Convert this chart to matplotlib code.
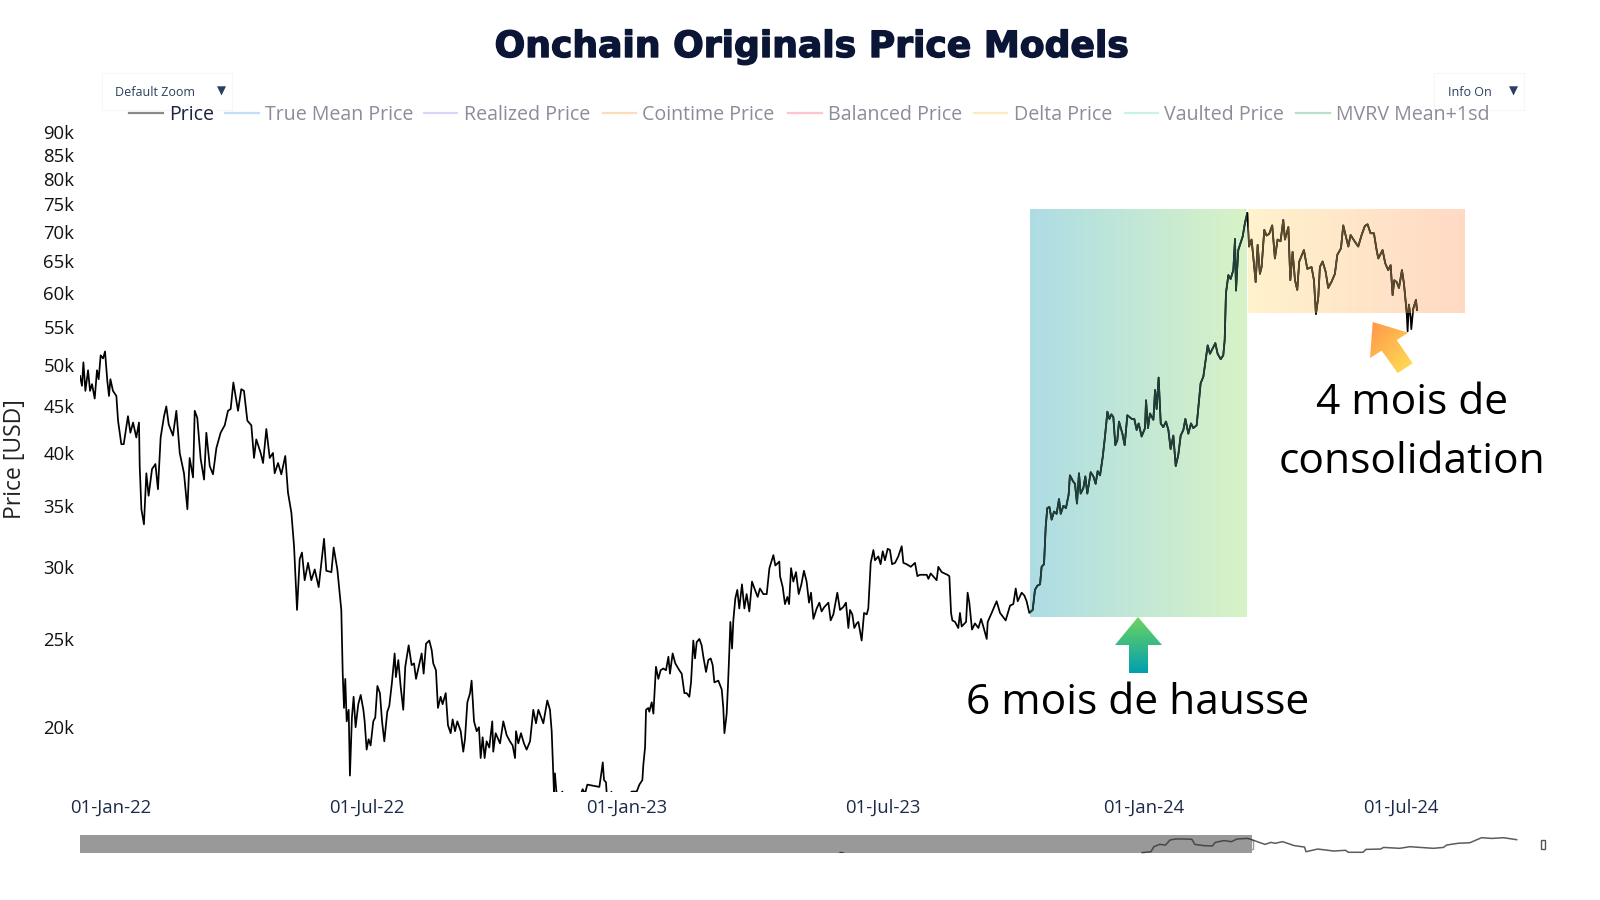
import numpy as np
import pandas as pd
import matplotlib
matplotlib.use("Agg")
import matplotlib.pyplot as plt
import matplotlib.dates as mdates
import matplotlib.patheffects as pe
from matplotlib.colors import LinearSegmentedColormap
from matplotlib.lines import Line2D
from matplotlib.patches import Polygon, Rectangle

plt.rcParams["font.family"] = ["Open Sans", "DejaVu Sans"]

# ── Data: days since 2022-01-01, price in k USD ──
days_2022a = [-21.7, -20.3, -19.3, -17.9, -16, -14.6, -13.2, -11.3, -9.7, -8.5, -7.1, -5.4, -4, -2.4, -1.2, -0.2,
              1.6, 4, 5.2, 7.5, 9.2, 12.2, 13.9, 15.8, 18.1, 20, 20.5, 21.7, 23.5, 25.2, 26.8, 29.2, 31.6, 33.4,
              35.3, 37.7, 39.3, 41, 44, 46.4, 48.8, 51.8, 54.2, 55.8, 58.2, 59.4, 61.2, 63.6, 66, 67.6, 70, 72.3,
              74.7, 77.7, 80.6, 82.9, 84.8, 86.7, 90, 92.3, 94.2, 96.6, 99.4, 101.3, 102.9, 106, 107.7, 110, 112.4,
              114.7, 115.9, 118.3, 120.6, 123.4, 125.3, 127.7, 129.6, 131.7, 133.6, 135.2, 137.1, 139.5, 141.8,
              144.2, 147, 150.8, 152.4, 156, 157.6, 160.2, 163]
price_2022a = [48.6, 47.4, 50.3, 46.8, 49.3, 46.8, 47.6, 45.9, 49.3, 48.2, 51.2, 50.8, 51.7, 48.0, 46.2, 48.2,
               46.8, 46.2, 43.4, 40.9, 40.9, 43.9, 42.1, 43.2, 41.6, 43.2, 38.7, 34.7, 33.4, 38.0, 35.9, 38.4, 38.9, 36.5,
               41.6, 43.9, 45.0, 43.0, 41.8, 44.5, 40.0, 38.0, 34.7, 39.5, 37.6, 44.5, 43.7, 39.4, 37.4, 42.1, 38.7, 37.9,
               40.5, 42.1, 42.9, 44.5, 44.7, 47.8, 44.5, 47.0, 46.8, 43.4, 42.9, 39.5, 41.4, 40.0, 39.0, 42.5, 39.5,
               40.0, 38.0, 39.0, 37.9, 39.7, 36.2, 34.4, 31.6, 26.9, 30.6, 31.1, 29.0, 30.3, 29.0,
               29.8, 28.5, 32.2, 29.7, 29.6, 31.5, 29.8, 26.9]

days_2022b = [164, 164.9, 165.8, 166.8, 168.2, 169.1, 170.5, 171.7, 173.1, 175, 176.7, 178.6, 179.5, 180.9, 182.3, 183.7,
              185.6, 187, 188.5, 190.3, 191.8, 193.4, 195.5, 196.9, 198.8, 200.7, 201.6, 203.3, 204.9, 206.8, 208.2, 210.6,
              212.7, 214.4, 215.8, 217.7, 219.8, 221.2, 222.9, 225.2, 226.9, 228, 229.9, 231.3, 233.2, 234.6, 236.8, 238.4,
              240.3, 241.7, 243.4, 245, 247.4, 249.2, 250.4, 252.1, 254, 255.1, 256.8, 258.7, 260.3, 261.5, 262.9, 264.3,
              265.7, 267.6, 269.7, 270.4, 272.1, 275.2, 277.5, 279.9, 282.2, 284.1, 285.8, 286.5, 288.1, 290, 292.1, 294,
              296.4, 298.7, 300.6, 302.3, 305.8, 308.6, 310.5, 311.7, 313.3, 314, 315, 317.6, 319.2, 321.1, 324.6, 329.3,
              331.7, 333.6, 335.2, 336.9]
price_2022b = [22.9, 21.0, 22.6, 20.3, 20.9, 17.7, 20.5, 21.6, 20.0, 21.2, 21.7, 20.9, 20.3, 18.9, 19.4, 19.1,
               20.3, 20.5, 22.2, 21.8, 20.3, 19.3, 20.8, 21.1, 22.4, 24.1, 22.7, 23.7, 22.2, 20.9, 23.3, 24.6,
               23.4, 23.5, 22.6, 23.3, 24.1, 22.9, 24.7, 24.9, 24.3, 23.5, 23.1, 21.0, 21.6, 21.2, 21.8, 20.1,
               19.7, 20.4, 19.8, 20.3, 19.8, 18.8, 19.4, 21.3, 21.8, 22.5, 20.3, 19.8, 20.0, 18.5, 19.5, 18.5,
               19.3, 19.0, 20.3, 18.8, 19.7, 19.2, 20.3, 19.6, 19.3, 19.1, 18.5, 19.8, 19.2, 19.7, 19.2, 18.9,
               19.3, 20.9, 20.2, 20.9, 20.2, 21.4, 20.9, 19.8, 17.0, 17.8, 17.0, 16.7, 17.0, 16.6, 16.5, 16.4,
               16.8, 17.1, 16.9, 17.3]

days_2023a = [338.8, 340, 341.6, 343.5, 345.4, 347, 347.8, 348.7, 350.1, 350.6, 353, 353.9, 357.6, 362.4, 368.3, 371.8,
              373.7, 375.8, 376.5, 377.7, 378.4, 380, 380.7, 382.4, 383.6, 385.4, 387.1, 388.7, 390.6, 392.5, 394.2, 395.3,
              397.2, 399.1, 401.9, 403.6, 405.5, 407.1, 409, 410.2, 411.8, 413, 414.2, 416.1, 417.7, 418.9, 420.8, 422.4,
              424.1, 425.5, 426.7, 429.5, 431.9, 433, 433.8, 435.4, 436.3, 437.3, 438, 439.2, 440.1, 441.5, 442.9, 444.3,
              446.2, 447.9, 449.5, 451.4, 453.3, 455.4, 457.3, 458.9, 461.3, 463.7, 465.6, 468.4, 469.8, 472.6, 473.1, 475,
              476.6, 478.3, 479.5, 480.9, 482.5, 484.4, 486.3, 488.2, 490, 491.9, 493.6, 495, 496.7, 499, 500.9, 502.5,
              504.4, 507.3, 508.9, 510.8, 513.6, 515.5, 517.8, 519.7, 521.4, 522.6, 524.2, 525.6, 527.3, 528.5]
price_2023a = [17.3, 17.0, 17.3, 17.2, 17.2, 17.9, 18.3, 17.5, 17.4, 16.9, 16.7, 16.99, 16.6, 16.6, 17.0, 17.0,
               17.3, 17.5, 18.2, 19.0, 20.9, 21.0, 20.8, 21.3, 20.7, 23.3, 22.6, 23.1, 23.2, 23.1, 23.9, 22.9,
               24.1, 23.5, 23.1, 22.9, 21.8, 21.8, 21.6, 22.4, 24.9, 23.8, 24.8, 25.0, 24.6, 23.9, 23.0, 23.7,
               23.8, 23.4, 22.4, 22.5, 22.0, 21.0, 19.7, 20.7, 22.2, 24.3, 26.1, 24.4, 26.2, 27.7, 28.3, 27.0,
               28.7, 27.0, 28.0, 26.8, 28.9, 28.3, 27.8, 28.4, 28.0, 28.0, 29.9, 30.9, 30.1, 30.4, 29.3, 28.5,
               27.3, 27.8, 27.3, 29.9, 28.9, 29.6, 28.0, 28.7, 29.7, 28.9, 27.4, 28.1, 26.3, 27.0, 27.4, 26.8,
               27.1, 27.4, 26.2, 26.6, 28.1, 26.9, 27.1, 27.4, 25.7, 26.9, 26.6, 25.7, 26.0, 26.1]

days_2023b = [530.8, 532.5, 534.4, 535.5, 537.2, 539.1, 540.2, 542.6, 544.2, 545.7, 547.3, 549.2, 550.8, 552.3, 554.4, 556.7,
              559.1, 560.3, 562.6, 565.5, 568.5, 570.2, 572, 574.4, 576.8, 578, 579.6, 583.8, 585, 587.4, 591.4, 592.8,
              594, 594.9, 596.8, 599.1, 600.3, 601.5, 604.6, 605.7, 606.9, 608.8, 610.9, 613.3, 615.2, 616.8, 619.2, 619.9,
              622.7, 626.2, 628.6, 632.6, 635.7, 638, 639.7, 641.1, 643.9, 645.8, 647.4, 649.3, 651.7, 653.3, 655, 656.9,
              658, 659.7, 660.9]
price_2023b = [24.9, 26.7, 26.6, 27.0, 30.3, 31.3, 30.5, 30.8, 30.2, 31.2, 30.5, 31.4, 31.3, 30.2, 30.3, 30.8,
               31.6, 30.3, 30.2, 30.0, 30.3, 29.3, 29.4, 29.4, 29.4, 29.1, 29.5, 29.0, 30.0, 29.6, 29.4, 29.3,
               26.7, 26.2, 26.1, 25.7, 26.7, 25.8, 26.1, 28.1, 27.4, 25.6, 26.0, 25.7, 26.3, 25.8, 25.0, 26.1,
               26.7, 27.5, 26.7, 26.2, 27.2, 27.3, 28.4, 27.5, 28.1, 27.9, 27.5, 26.7, 26.9, 28.3, 28.6, 28.7,
               30.0, 30.2, 33.2]

days_rally = [662, 663.5, 665.1, 666.8, 668.6, 670.3, 671.5, 673.4, 675.2, 677.1, 678, 680.4, 681.6, 683, 684.4, 685.6,
              687.5, 688.9, 690.3, 692.7, 694.6, 696.2, 697.6, 699.3, 701.2, 702.8, 704.5, 705.9, 707.3, 708.7, 710.1, 711.5,
              712.7, 715.1, 716.7, 718.6, 721.7, 723.5, 725.2, 726.6, 728.7, 731.1, 731.8, 733.2, 734.6, 737, 738.2, 739.3,
              740.7, 742.2, 744, 745.9, 747.6, 749.2, 751.1, 752.8, 754.6, 756.3, 758.2, 759.6, 761.7, 763.6, 765.2, 767.6,
              769, 770.4, 772.3, 773.5, 775.4, 777, 778.9, 780.8, 782.4, 784.6, 786.4, 787.4, 788.3, 790, 791.6, 793.5,
              794.7, 795.4, 797, 800.1, 801.7, 803.4]
price_rally = [34.8, 34.9, 33.8, 34.5, 34.3, 35.6, 34.3, 35.0, 34.8, 36.0, 37.8, 37.2, 37.0, 35.2, 38.0, 36.1,
               36.6, 37.7, 36.1, 38.1, 37.7, 37.0, 38.2, 37.8, 39.6, 41.7, 44.4, 43.6, 44.1, 43.8, 40.8, 41.3,
               43.3, 42.0, 40.8, 44.0, 43.6, 43.6, 42.4, 43.1, 41.7, 42.6, 45.7, 42.6, 44.2, 43.5, 46.9, 44.7,
               48.4, 43.1, 42.7, 43.3, 42.4, 40.4, 41.8, 38.7, 39.8, 41.8, 42.4, 43.6, 42.0, 43.1, 42.6, 42.9,
               45.3, 47.7, 48.5, 50.0, 52.5, 51.4, 52.1, 52.8, 51.4, 50.7, 51.2, 53.2, 59.9, 62.7, 62.1, 63.5,
               68.7, 60.3, 66.8, 69.1, 71.5, 73.4]

days_range = [804.6, 806.4, 807.6, 809.3, 810.7, 812.3, 813.5, 815.4, 817, 818.9, 821, 822.9, 824.8, 826.9, 828.8, 830,
              832.4, 833.8, 835.4, 837.1, 838.7, 840.1, 843.4, 845.8, 848.8, 850.5, 851.9, 853.6, 854.7, 856.6, 858.7, 860.6,
              863, 865.3, 867, 869.6, 871.2, 873.1, 874.8, 876.4, 879.5, 881.8, 884.2, 886.5, 888.4, 890.5, 892.9, 894.8,
              896, 899, 900.9, 903, 904.7, 906.1, 907.3, 909, 910.6, 912.7, 914.1, 916, 916.7, 917.6, 918.8, 919.3, 920.7,
              922.6, 923.3]
price_range = [67.4, 68.6, 65.7, 61.6, 67.7, 62.9, 64.0, 70.3, 69.3, 69.6, 71.1, 65.4, 68.6, 68.3, 72.1, 68.6,
               70.8, 61.9, 66.5, 61.9, 60.4, 64.9, 66.8, 63.7, 64.0, 61.9, 56.8, 59.4, 64.0, 64.9, 63.3, 60.7,
               61.7, 62.9, 66.0, 67.1, 71.1, 69.1, 67.4, 69.4, 68.2, 67.4, 69.4, 71.0, 71.3, 69.7, 69.7, 66.8,
               65.4, 66.8, 64.6, 63.5, 64.3, 59.6, 61.9, 61.6, 60.7, 63.5, 61.4, 57.2, 54.4, 58.2, 56.4, 54.7, 57.6,
               58.9, 57.4]

y_ticks = [20, 25, 30, 35, 40, 45, 50, 55, 60, 65, 70, 75, 80, 85, 90]
x_tick_dates = ["2022-01-01", "2022-07-01", "2023-01-01", "2023-07-01", "2024-01-01", "2024-07-01"]
x_tick_labels = ["01-Jan-22", "01-Jul-22", "01-Jan-23", "01-Jul-23", "01-Jan-24", "01-Jul-24"]

legend_names = ["Price", "True Mean Price", "Realized Price", "Cointime Price",
                "Balanced Price", "Delta Price", "Vaulted Price", "MVRV Mean+1sd"]
legend_colors = ["#8a8a8a", "#c4dcfb", "#dcd3fb", "#fedcb8", "#fec5d0", "#fdeabf", "#c7f4e5", "#b5e0ca"]
legend_x = [129, 225, 423.5, 602.5, 788, 973.5, 1124.5, 1296]

# range slider trace, percent of slider width / height
slider_x = [72.6, 73.2, 73.4, 73.8, 74.2, 74.5, 74.9, 75.4, 76.0, 76.2, 76.8, 77.4, 77.6, 78.2, 78.7, 79.1, 79.8, 80.1,
            80.6, 81.0, 81.4, 81.7, 82.2, 83.0, 83.7, 83.8, 84.6, 85.7, 86.5, 86.7, 87.7, 87.9, 88.9, 89.1, 90.2, 90.9,
            92.5, 93.2, 93.4, 94.2, 95.0, 95.8, 96.5, 97.3, 98.2]
slider_y = [2, 7, 35, 48, 44, 72, 78, 78, 76, 48, 41, 39, 59, 69, 63, 78, 81, 74,
            59, 48, 59, 54, 63, 41, 33, 7, 22, 11, 15, 4, 4, 20, 22, 31, 26, 35,
            26, 31, 44, 54, 57, 85, 81, 85, 74]

W, H = 1600, 900
start = pd.Timestamp("2022-01-01")


def to_date(days):
    return start + pd.to_timedelta(np.array(days, dtype=float), unit="D")


def px_axes(x0, y0, x1, y1):
    return [x0 / W, 1 - y1 / H, (x1 - x0) / W, (y1 - y0) / H]


fig = plt.figure(figsize=(16, 9), dpi=100, facecolor="white")

# ── Main chart ──
ax = fig.add_axes(px_axes(80, 120, 1543, 792))
days = days_2022a + days_2022b + days_2023a[4:] + days_2023b + days_rally + days_range
price = price_2022a + price_2022b + price_2023a[4:] + price_2023b + price_rally + price_range
dates = to_date(days)

LINE_W = 1.25
ax.plot(dates, price, color="black", lw=LINE_W, zorder=3)

ax.set_yscale("log")
ax.set_ylim(16.98, 92.8)
ax.set_xlim(to_date([-21.7])[0], to_date([1012.4])[0])
ax.set_yticks(y_ticks)
ax.set_yticklabels([f"{v}k" for v in y_ticks], fontsize=13.3, color="#111111")
ax.minorticks_off()
ax.set_xticks(pd.to_datetime(x_tick_dates))
ax.set_xticklabels(x_tick_labels, fontsize=13.3, color="#1c2a4a")
ax.tick_params(axis="both", length=0)
ax.tick_params(axis="x", pad=5.2)
ax.tick_params(axis="y", pad=4)
for s in ax.spines.values():
    s.set_visible(False)
fig.text(15 / W, 1 - 459 / H, "Price [USD]", rotation=90, fontsize=16.5,
         ha="center", va="center", color="#222222")

# ── Gradient boxes ──
cm_rally = LinearSegmentedColormap.from_list("rally", ["#ADDCE4", "#D7F2C6"])
cm_range = LinearSegmentedColormap.from_list("range", ["#FFF2CC", "#FFD9C4"])


def grad_box(d0, d1, low, high, cmap, tint):
    xe = mdates.date2num(pd.date_range(d0, d1, periods=121))
    vals = np.linspace(0, 1, 120).reshape(1, -1)
    ax.pcolormesh(xe, [low, high], vals, cmap=cmap, shading="flat",
                  antialiased=False, linewidth=0, zorder=1)
    box = Rectangle((xe[0], low), xe[-1] - xe[0], high - low,
                    facecolor="none", edgecolor="none", zorder=1)
    ax.add_patch(box)
    tinted, = ax.plot(dates, price, color=tint, lw=LINE_W, zorder=4)
    tinted.set_clip_path(box)


grad_box("2023-10-13", "2024-03-14", 26.4, 74.2, cm_rally, "#1f3f38")
grad_box("2024-03-15", "2024-08-15", 57.0, 74.2, cm_range, "#5c4a2c")

# ── Overlay in pixel coords: arrows and the widgets ──
ov = fig.add_axes([0, 0, 1, 1], facecolor="none")
ov.set_xlim(0, W)
ov.set_ylim(H, 0)
ov.axis("off")


def grad_arrow(pts, c0, c1, angle_dir):
    pts = np.array(pts, dtype=float)
    x0, x1 = pts[:, 0].min(), pts[:, 0].max()
    y0, y1 = pts[:, 1].min(), pts[:, 1].max()
    xx, yy = np.meshgrid(np.linspace(0, 1, 100), np.linspace(0, 1, 100))
    zz = (xx * angle_dir[0] + yy * angle_dir[1]) / (abs(angle_dir[0]) + abs(angle_dir[1]))
    zz = zz - zz.min()
    cmap = LinearSegmentedColormap.from_list("a", [c0, c1])
    im = ov.imshow(zz, extent=(x0, x1, y1, y0), cmap=cmap, aspect="auto", zorder=5)
    poly = Polygon(pts, closed=True, facecolor="none", edgecolor="none", transform=ov.transData)
    ov.add_patch(poly)
    im.set_clip_path(poly)


grad_arrow([(1138, 617), (1162, 645), (1148, 645), (1148, 673), (1129, 673), (1129, 645), (1115, 645)],
           "#6ED35F", "#00A0B0", (0, 1))
grad_arrow([(1372.7, 322), (1408.3, 332.7), (1396.7, 340), (1412.7, 363.3), (1397.7, 373), (1381.7, 350.7), (1370, 358)],
           "#FF964A", "#FFE055", (1, 1))
ov.set_xlim(0, W)
ov.set_ylim(H, 0)

ov.text(1138, 703, "6 mois de hausse", fontsize=30.6, ha="center", va="center", color="black")
ov.text(1412, 403, "4 mois de", fontsize=30.6, ha="center", va="center", color="black")
ov.text(1412, 462, "consolidation", fontsize=30.6, ha="center", va="center", color="black")

ov.text(812, 47, "Onchain Originals Price Models", fontsize=26, fontweight="bold",
        family="DejaVu Sans", ha="center", va="center", color="#0b1536",
        path_effects=[pe.withStroke(linewidth=1.0, foreground="#0b1536")])

# ── Legend ──
for name, col, lx in zip(legend_names, legend_colors, legend_x):
    ov.add_line(Line2D([lx, lx + 33.5], [113, 113], color=col, lw=1.6))
    ov.text(lx + 40, 115, name, fontsize=14.1, ha="left", va="center",
            color="#1c2340" if name == "Price" else "#8c8c9a")

# ── Dropdowns ──
for x0, x1, label, tx, ax_x in [(102, 232, "Default Zoom", 115, 221), (1434, 1524, "Info On", 1448, 1513)]:
    ov.add_patch(Rectangle((x0, 73), x1 - x0, 37, facecolor="white", edgecolor="#f6f6f6", lw=0.8))
    ov.text(tx, 92, label, fontsize=9, ha="left", va="center", color="#2a3f5f")
    ov.text(ax_x, 91, "▼", fontsize=8.5, ha="center", va="center", color="#2a3f5f", family="DejaVu Sans")

# ── Range slider ──
sl = fig.add_axes(px_axes(80, 835, 1543, 853), facecolor="none")
sl.set_xlim(0, 100)
sl.set_ylim(0, 100)
sl.axis("off")
sl.add_patch(Rectangle((0, 0), (1252 - 80) / 14.63, 100, facecolor="#999999", edgecolor="none", zorder=1))
sl.plot(slider_x, slider_y, color="#333333", lw=1.1, alpha=0.8, zorder=2, clip_on=False)
sl.plot([51.9, 52.05, 52.2], [0, 4, 0], color="#333333", lw=0.8, zorder=2)
for hx, ec in [(1251, "#9a9a9a"), (1543, "#555555")]:
    ov.add_patch(Rectangle((hx - 2, 840), 4, 9, facecolor="white", edgecolor=ec, lw=1.0, zorder=6))

fig.savefig("out.png", dpi=100)
